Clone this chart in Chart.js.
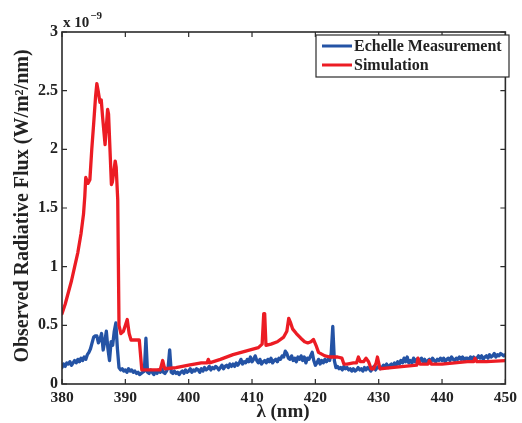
<!DOCTYPE html>
<html><head><meta charset="utf-8">
<script src="https://cdn.jsdelivr.net/npm/chart.js@4"></script>
<style>html,body{margin:0;padding:0;background:#fff}canvas{display:block}</style>
</head><body>
<canvas id="c" width="522" height="423"></canvas>
<script>
// ---- Data (flux in units of 1e-9 W/m^2/nm) ----
const simWavelength = [380,380.5,381,381.5,382,382.5,383,383.4,383.6,383.75,384.1,384.4,384.7,385.0,385.3,385.5,385.7,386.0,386.2,386.4,386.8,387.2,387.35,387.8,387.95,388.4,388.55,388.8,389.0,389.3,389.7,390.3,390.6,390.9,392.2,392.6,395.5,395.9,396.2,398,400,402,402.9,403.1,403.3,405,407,409,411,411.6,411.85,412.0,412.2,413,414,415,415.5,415.8,416.1,416.4,417,417.7,418.3,418.8,419.3,419.7,420.1,420.5,421.5,422.3,423.5,424.2,424.5,425,426,426.5,426.8,427.1,427.6,428.0,428.4,428.8,429.2,429.6,429.8,430.0,430.2,432,434,436,436.2,436.5,437.8,438,438.3,440,442,444,445,445.2,445.5,447,450];
const simFlux = [0.60,0.68,0.78,0.88,1.0,1.12,1.28,1.45,1.60,1.76,1.71,1.74,2.00,2.22,2.45,2.56,2.50,2.40,2.42,2.28,2.04,2.34,2.30,1.70,1.72,1.90,1.85,1.57,0.50,0.43,0.45,0.55,0.43,0.375,0.375,0.12,0.12,0.20,0.13,0.14,0.16,0.18,0.18,0.21,0.18,0.21,0.25,0.28,0.31,0.34,0.60,0.60,0.33,0.34,0.36,0.40,0.45,0.56,0.52,0.47,0.43,0.39,0.36,0.35,0.36,0.38,0.33,0.27,0.24,0.23,0.23,0.22,0.17,0.17,0.18,0.18,0.23,0.19,0.19,0.22,0.19,0.13,0.13,0.18,0.23,0.18,0.13,0.14,0.15,0.16,0.22,0.17,0.17,0.20,0.17,0.17,0.18,0.19,0.19,0.22,0.19,0.19,0.20];

// Echelle measurement sampled every 0.25 nm from 380 nm
const measStartNm = 380, measStepNm = 0.25;
const measFlux = [
0.14,0.17,0.15,0.18, 0.17,0.19,0.16,0.18, 0.20,0.18,0.21,0.19, 0.22,0.20,0.23,0.21,
0.25,0.27,0.30,0.35, 0.40,0.41,0.41,0.35, 0.38,0.43,0.29,0.36, 0.45,0.30,0.20,0.36,
0.33,0.45,0.52,0.30, 0.14,0.12,0.13,0.11, 0.12,0.10,0.13,0.11, 0.12,0.10,0.11,0.09,
0.10,0.08,0.09,0.10, 0.11,0.39,0.10,0.09, 0.12,0.10,0.08,0.11, 0.09,0.12,0.10,0.13,
0.10,0.09,0.11,0.14, 0.29,0.10,0.09,0.11, 0.09,0.10,0.08,0.10, 0.11,0.09,0.12,0.10,
0.11,0.13,0.10,0.12, 0.11,0.13,0.12,0.10, 0.13,0.11,0.14,0.12, 0.13,0.15,0.12,0.14,
0.13,0.15,0.14,0.12, 0.14,0.16,0.13,0.15, 0.16,0.14,0.17,0.15, 0.17,0.15,0.18,0.16,
0.18,0.21,0.17,0.19, 0.18,0.21,0.19,0.23, 0.19,0.21,0.24,0.20, 0.18,0.21,0.17,0.19,
0.20,0.18,0.21,0.19, 0.22,0.18,0.20,0.21, 0.19,0.22,0.21,0.24, 0.23,0.28,0.26,0.22,
0.21,0.24,0.20,0.22, 0.19,0.23,0.21,0.24, 0.20,0.23,0.18,0.22, 0.21,0.24,0.27,0.20,
0.16,0.18,0.21,0.17, 0.20,0.18,0.21,0.19, 0.21,0.20,0.26,0.49, 0.20,0.14,0.15,0.13,
0.14,0.12,0.15,0.13, 0.14,0.12,0.13,0.11, 0.13,0.11,0.12,0.14, 0.12,0.13,0.11,0.14,
0.12,0.14,0.13,0.11, 0.13,0.15,0.12,0.14, 0.15,0.13,0.14,0.16, 0.15,0.17,0.14,0.16,
0.17,0.15,0.18,0.16, 0.19,0.17,0.20,0.18, 0.22,0.19,0.23,0.18, 0.20,0.18,0.22,0.19,
0.21,0.18,0.20,0.22, 0.19,0.21,0.18,0.20, 0.21,0.19,0.22,0.20, 0.19,0.21,0.20,0.22,
0.20,0.22,0.19,0.21, 0.22,0.20,0.23,0.21, 0.20,0.22,0.21,0.23, 0.21,0.23,0.20,0.22,
0.22,0.20,0.23,0.21, 0.23,0.21,0.22,0.24, 0.22,0.24,0.21,0.23, 0.24,0.22,0.25,0.23,
0.24,0.26,0.23,0.25, 0.24,0.26,0.25,0.24, 0.25];

const xTickValues = [380,390,400,410,420,430,440,450];
const yTickValues = [0,0.5,1,1.5,2,2.5,3];
const yTickLabels = ['0','0.5','1','1.5','2','2.5','3'];
const seriesNames = ['Echelle Measurement','Simulation'];
const xTitle = 'λ (nm)';
const yTitle = 'Observed Radiative Flux (W/m²/nm)';

// ---- Build ----
const BLUE = '#2453a5', RED = '#ec1c24', AXIS = '#2b2b2b';
const SERIF = '"Liberation Serif","Times New Roman",serif';
const measPoints = measFlux.map((v,i)=>({x: measStartNm + i*measStepNm, y: v}));
const simPoints = simFlux.map((v,i)=>({x: simWavelength[i], y: v}));

const decor = {
  id: 'decor',
  afterDraw(chart){
    const {ctx, chartArea:a, scales:{x, y}} = chart;
    ctx.save();
    ctx.strokeStyle = AXIS; ctx.lineWidth = 1.6;
    ctx.strokeRect(a.left, a.top, a.right-a.left, a.bottom-a.top);
    ctx.lineWidth = 1.2;
    const tl = 5;
    ctx.beginPath();
    xTickValues.forEach(v=>{const px = x.getPixelForValue(v);
      ctx.moveTo(px,a.bottom); ctx.lineTo(px,a.bottom-tl);
      ctx.moveTo(px,a.top); ctx.lineTo(px,a.top+tl);});
    yTickValues.forEach(v=>{const py = y.getPixelForValue(v);
      ctx.moveTo(a.left,py); ctx.lineTo(a.left+tl,py);
      ctx.moveTo(a.right,py); ctx.lineTo(a.right-tl,py);});
    ctx.stroke();
    ctx.fillStyle = '#222';
    ctx.font = 'bold 15px '+SERIF; ctx.textBaseline='alphabetic'; ctx.textAlign='left';
    ctx.fillText('x 10', 63, 27);
    const w = ctx.measureText('x 10').width;
    ctx.font = 'bold 11px '+SERIF;
    ctx.fillText('\u22129', 63+w+1, 19);
    ctx.font = 'bold 19px '+SERIF; ctx.textAlign='center'; ctx.textBaseline='middle';
    ctx.fillText(xTitle, 283, 412);
    ctx.save();
    ctx.font = 'bold 20px '+SERIF;
    ctx.translate(23, 206);
    ctx.rotate(-Math.PI/2);
    ctx.fillText(yTitle, 0, 0);
    ctx.restore();
    const bx=316, by=35, bw=193, bh=42;
    ctx.fillStyle='#fff'; ctx.fillRect(bx,by,bw,bh);
    ctx.strokeStyle=AXIS; ctx.lineWidth=1.2; ctx.strokeRect(bx,by,bw,bh);
    const cols=[BLUE,RED], rows=[46,65];
    ctx.font='bold 16px '+SERIF; ctx.textAlign='left';
    rows.forEach((ry,i)=>{
      ctx.strokeStyle=cols[i]; ctx.lineWidth=3;
      ctx.beginPath(); ctx.moveTo(322,ry); ctx.lineTo(352,ry); ctx.stroke();
      ctx.fillStyle='#222'; ctx.fillText(seriesNames[i], 354, ry+1);
    });
    ctx.restore();
  }
};

new Chart(document.getElementById('c'), {
  type: 'line',
  data: { datasets: [
    {label: seriesNames[0], data: measPoints, borderColor: BLUE, borderWidth: 3.3, borderJoinStyle: 'round', borderCapStyle: 'round', pointRadius: 0, tension: 0, order: 1},
    {label: seriesNames[1], data: simPoints, borderColor: RED, borderWidth: 3.3, borderJoinStyle: 'round', borderCapStyle: 'round', pointRadius: 0, tension: 0, order: 0}
  ]},
  options: {
    responsive: false, devicePixelRatio: 1, animation: false,
    layout: {padding: {top: 32, right: 11, left: 0, bottom: 0}},
    plugins: {legend: {display: false}, tooltip: {enabled: false}},
    scales: {
      x: {type: 'linear', min: 380, max: 450,
        afterBuildTicks: s => { s.ticks = xTickValues.map(v=>({value:v})); },
        afterFit: s => { s.height = 39; },
        grid: {display: false, drawTicks: false}, border: {display: false},
        ticks: {padding: 5, color: '#222', font: {family: SERIF, size: 15.5, weight: 'bold'}}},
      y: {type: 'linear', min: 0, max: 3,
        afterBuildTicks: s => { s.ticks = yTickValues.map(v=>({value:v})); },
        afterFit: s => { s.width = 62; },
        grid: {display: false, drawTicks: false}, border: {display: false},
        ticks: {padding: 4, color: '#222', font: {family: SERIF, size: 16, weight: 'bold'},
          callback: (v) => { const i = yTickValues.indexOf(v); return i >= 0 ? yTickLabels[i] : ''; }}}
    }
  },
  plugins: [decor]
});
</script>
</body></html>
